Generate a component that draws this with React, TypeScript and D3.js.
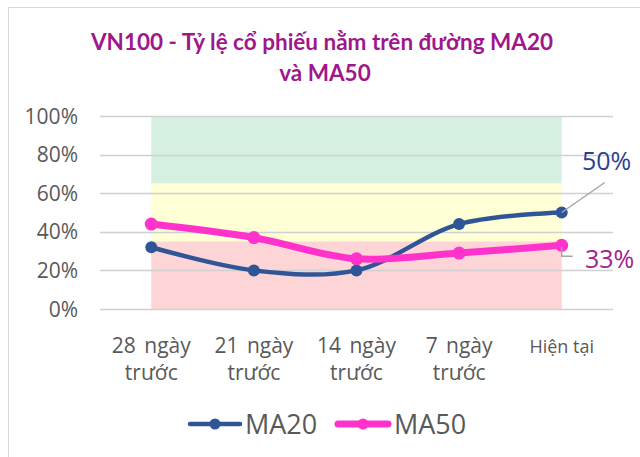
import { useEffect, useRef } from "react";
import * as d3 from "d3";

const categories = ["28 ngày|trước", "21 ngày|trước", "14 ngày|trước", "7 ngày|trước", "Hiện tại"];
const ma20 = [0.32, 0.2, 0.2, 0.44, 0.5];
const ma50 = [0.44, 0.37, 0.26, 0.29, 0.33];
const yTicks = [0, 0.2, 0.4, 0.6, 0.8, 1];
const zones = [
  { from: 0.65, to: 1, color: "#D5F0E1" },
  { from: 0.35, to: 0.65, color: "#FEFFD5" },
  { from: 0, to: 0.35, color: "#FDD5D6" },
];

const blue = "#2F5597";
const pink = "#FF33CC";
const axisGray = "#595959";
const font = "'Open Sans', 'DejaVu Sans', sans-serif";

const App = () => {
  const svgRef = useRef<SVGSVGElement>(null);

  useEffect(() => {
    const svg = d3.select(svgRef.current);
    svg.selectAll("*").remove();

    const width = 640;
    const height = 457;
    const plot = { left: 100, right: 613, top: 116, bottom: 309 };

    svg.attr("width", width).attr("height", height);

    // chart frame (cropped at right/bottom)
    svg.append("rect")
      .attr("x", 8.5).attr("y", 7.5)
      .attr("width", 700).attr("height", 500)
      .attr("fill", "white")
      .attr("stroke", "#D9D9D9");

    // title
    const title = svg.append("text")
      .attr("text-anchor", "middle")
      .attr("fill", "#A0178C")
      .style("font-family", "Lato, 'Open Sans', sans-serif")
      .style("font-weight", "bold")
      .style("font-size", "22.5px");
    title.append("tspan").attr("x", 322).attr("y", 50).text("VN100 - Tỷ lệ cổ phiếu nằm trên đường MA20");
    title.append("tspan").attr("x", 325).attr("y", 81).text("và MA50");

    const x = d3.scaleBand()
      .domain(categories)
      .range([plot.left, plot.right]);
    const cx = (c: string) => (x(c) || 0) + x.bandwidth() / 2;

    const y = d3.scaleLinear()
      .domain([0, 1])
      .range([plot.bottom, plot.top]);

    // background zones between first and last category
    const x0 = cx(categories[0]);
    const x1 = cx(categories[categories.length - 1]);
    svg.append("g")
      .selectAll("rect")
      .data(zones)
      .enter()
      .append("rect")
      .attr("x", x0)
      .attr("width", x1 - x0)
      .attr("y", (d) => y(d.to))
      .attr("height", (d) => y(d.from) - y(d.to))
      .attr("fill", (d) => d.color);

    // gridlines
    svg.append("g")
      .selectAll("line")
      .data(yTicks)
      .enter()
      .append("line")
      .attr("x1", plot.left)
      .attr("x2", plot.right)
      .attr("y1", (d) => Math.round(y(d)) + 0.5)
      .attr("y2", (d) => Math.round(y(d)) + 0.5)
      .attr("stroke", "#D0D0D0")
      .attr("stroke-width", 1.5);

    // y axis labels
    svg.append("g")
      .selectAll("text")
      .data(yTicks)
      .enter()
      .append("text")
      .attr("x", 78)
      .attr("y", (d) => y(d) + 7.5)
      .attr("text-anchor", "end")
      .attr("fill", axisGray)
      .style("font-family", font)
      .style("font-size", "21px")
      .text((d) => d3.format(".0%")(d));

    // category labels
    const catG = svg.append("g")
      .style("font-family", font)
      .style("font-size", "21px")
      .style("word-spacing", "3px")
      .attr("fill", axisGray);
    categories.forEach((c) => {
      const lines = c.split("|");
      const t = catG.append("text").attr("text-anchor", "middle");
      lines.forEach((l, i) => {
        t.append("tspan")
          .attr("x", cx(c))
          .attr("y", 353 + i * 27)
          .style("font-size", lines.length === 1 ? "18px" : null)
          .style("word-spacing", lines.length === 1 ? "0px" : null)
          .text(l);
      });
    });

    const line = d3.line<number>()
      .x((_, i) => cx(categories[i]))
      .y((d) => y(d))
      .curve(d3.curveCatmullRom.alpha(0.5));

    const series = [
      { key: "MA20", values: ma20, color: blue, width: 4.5, r: 6 },
      { key: "MA50", values: ma50, color: pink, width: 7, r: 6.5 },
    ];

    series.forEach((s) => {
      svg.append("path")
        .datum(s.values)
        .attr("d", line)
        .attr("fill", "none")
        .attr("stroke", s.color)
        .attr("stroke-width", s.width)
        .attr("stroke-linecap", "round");
      svg.append("g")
        .selectAll("circle")
        .data(s.values)
        .enter()
        .append("circle")
        .attr("cx", (_, i) => cx(categories[i]))
        .attr("cy", (d) => y(d))
        .attr("r", s.r)
        .attr("fill", s.color);
    });

    // data labels for last point
    const lastX = x1;
    svg.append("line")
      .attr("x1", lastX).attr("y1", y(ma20[4]))
      .attr("x2", lastX + 43).attr("y2", y(ma20[4]) - 30)
      .attr("stroke", "#A6A6A6").attr("stroke-width", 1.5);
    svg.append("text")
      .attr("x", 582).attr("y", 170)
      .attr("fill", "#2E3F8F")
      .style("font-family", font)
      .style("font-size", "25px")
      .text(d3.format(".0%")(ma20[4]));

    svg.append("path")
      .attr("d", `M${lastX},${y(ma50[4]) + 2}V${y(ma50[4]) + 11}H${lastX + 11}`)
      .attr("fill", "none")
      .attr("stroke", "#A6A6A6").attr("stroke-width", 1.5);
    svg.append("text")
      .attr("x", 585).attr("y", 268)
      .attr("fill", "#A0238F")
      .style("font-family", font)
      .style("font-size", "25px")
      .text(d3.format(".0%")(ma50[4]));

    // legend
    const legend = [
      { key: "MA20", color: blue, width: 4.5, lx: 190, tx: 245 },
      { key: "MA50", color: pink, width: 7, lx: 338, tx: 394 },
    ];
    legend.forEach((l) => {
      svg.append("line")
        .attr("x1", l.lx).attr("x2", l.lx + 50)
        .attr("y1", 424).attr("y2", 424)
        .attr("stroke", l.color)
        .attr("stroke-width", l.width)
        .attr("stroke-linecap", "round");
      svg.append("circle")
        .attr("cx", l.lx + 25).attr("cy", 424)
        .attr("r", 5.5)
        .attr("fill", l.color);
      svg.append("text")
        .attr("x", l.tx).attr("y", 434)
        .attr("fill", axisGray)
        .style("font-family", font)
        .style("font-size", "27px")
        .text(l.key);
    });
  }, []);

  return (
    <div style={{ position: "absolute", left: 0, top: 0 }}>
      <svg ref={svgRef} style={{ display: "block" }}></svg>
    </div>
  );
};

export default App;
